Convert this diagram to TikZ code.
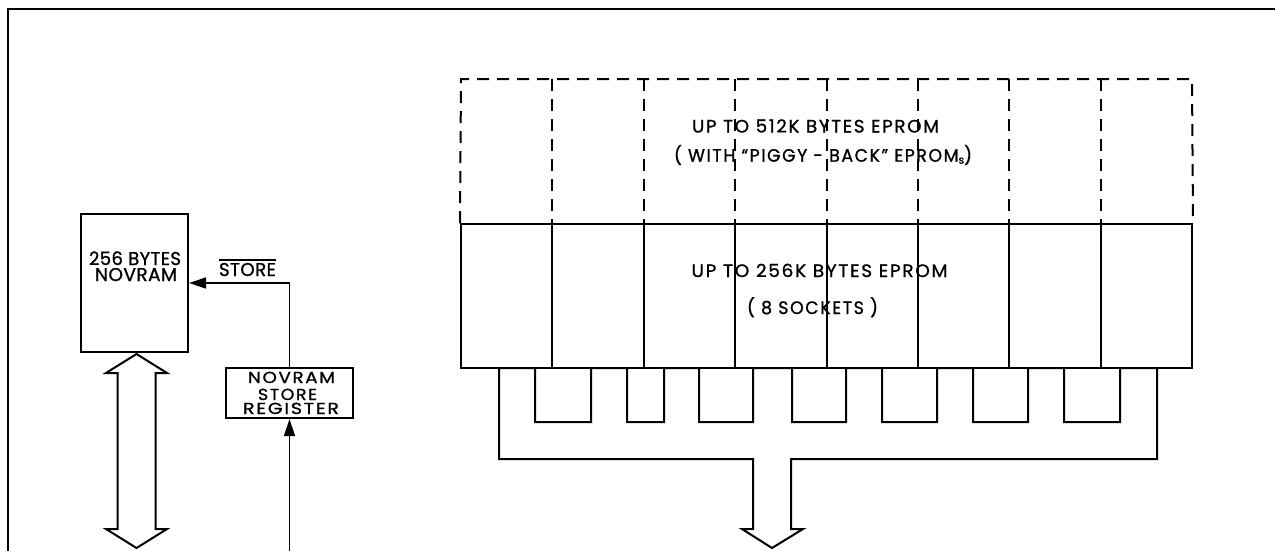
\documentclass[tikz,border=0pt]{standalone}
\usepackage{fontspec}
\setmainfont{Poppins}[FakeBold=1]
\newfontfamily\spaced{Poppins}[LetterSpace=9,FakeBold=1]
\newfontfamily\tight{Poppins}[LetterSpace=2,FakeBold=1]
\usetikzlibrary{arrows.meta,calc}
\newsavebox\fitbox
\newcommand\fitto[2]{\sbox\fitbox{#2}\dimen0=\wd\fitbox\pgfmathsetmacro\fitsx{#1/\the\dimen0}\scalebox{\fitsx}[1]{\usebox\fitbox}}
\begin{document}
\begin{tikzpicture}[x=1pt,y=-1pt,
  line width=2pt,
  boxst/.style={draw,rectangle,inner sep=0pt},
  cellst/.style={draw,rectangle,inner sep=0pt,minimum width=91.375pt,minimum height=144pt},
  dashst/.style={dash pattern=on 12pt off 8pt,line width=2pt},
  lbl/.style={inner sep=0pt,anchor=base},
  sig/.style={line width=1.4pt,-{Triangle[length=17pt,width=11pt]}},
  bigtext/.style={font=\spaced\fontsize{18}{20}\selectfont},
  novtext/.style={font=\tight\fontsize{18.5}{20}\selectfont},
  regtext/.style={font=\spaced\fontsize{16}{18}\selectfont},
]
\useasboundingbox (0,0) rectangle (1275,550);
\begin{scope}
\clip (0,0) rectangle (1275,550);
\draw[line width=2.5pt] (8,600) -- (8,9) -- (1300,9);
\end{scope}

% NOVRAM
\node[boxst,minimum width=107pt,minimum height=138pt] (nov) at (134.5,283) {};
\node[lbl,novtext] (novtxt) at (135,265) {\fitto{92}{256 BYTES}};
\node[lbl,novtext] (novtxt2) at (136,281) {\fitto{82}{NOVRAM}};

% double arrow (data bus)
\draw (136.5,354) -- (167,373) -- (155.5,373) -- (155.5,529) -- (167,529)
  -- (136.5,548) -- (106,529) -- (117.5,529) -- (117.5,373) -- (106,373) -- cycle;

% register
\node[boxst,minimum width=127pt,minimum height=50pt] (reg) at (289.5,393) {};
\node[lbl,regtext] (regt1) at (291.5,383) {\fitto{87}{NOVRAM}};
\node[lbl,regtext] (regt2) at (287.5,400) {\fitto{59}{STORE}};
\node[lbl,regtext] (regt3) at (291,414) {\fitto{96}{REGISTER}};
\coordinate (regin) at (289.5,560);
\draw[sig] (regin) -- (reg.south);
\draw[sig] (reg.north) |- (nov.east);
\node[lbl,novtext] (storelbl) at (247.5,276) {\fitto{57}{STORE}};
\draw[line width=1.3pt] (219,260) -- (276,260);

% EPROM sockets
\foreach \i in {0,...,7} {
  \node[cellst] (s\i) at ({461+91.375*(\i+0.5)},296) {};
}
% piggy-back dashed area
\draw[dashst] (s0.north west) -- (461,79) -- (1192,79) -- (s7.north east);
\foreach \i in {1,...,7} {
  \draw[dashst] ({461+91.375*\i},79) -- ({461+91.375*\i},224);
}

% bus comb
\draw (499,368) -- (499,459) -- (753,459) -- (753,529) -- (742,529) -- (772,548)
  -- (803,529) -- (791,529) -- (791,459) -- (1157,459) -- (1157,368)
  -- (1120,368) -- (1120,422) -- (1064,422) -- (1064,368)
  -- (1028,368) -- (1028,422) -- (973,422) -- (973,368)
  -- (937,368) -- (937,422) -- (882,422) -- (882,368)
  -- (846,368) -- (846,422) -- (792,422) -- (792,368)
  -- (753,368) -- (753,422) -- (699,422) -- (699,368)
  -- (664,368) -- (664,422) -- (627,422) -- (627,368)
  -- (591,368) -- (591,422) -- (535,422) -- (535,368) -- cycle;

% texts
\node[lbl,bigtext] (t1) at (815.5,132.5) {\fitto{247}{UP TO 512K BYTES EPROM}};
\node[lbl,bigtext] (t2) at (823,161.7) {\fitto{298}{( WITH “PIGGY - BACK” EPROM{\fontsize{11}{11}\selectfont\raisebox{-2pt}{s}})}};
\node[lbl,bigtext] (t3) at (819.5,277) {\fitto{256}{UP TO 256K BYTES EPROM}};
\node[lbl,bigtext] (t4) at (812.5,314) {\fitto{131}{( 8 SOCKETS )}};
\end{tikzpicture}
\end{document}
